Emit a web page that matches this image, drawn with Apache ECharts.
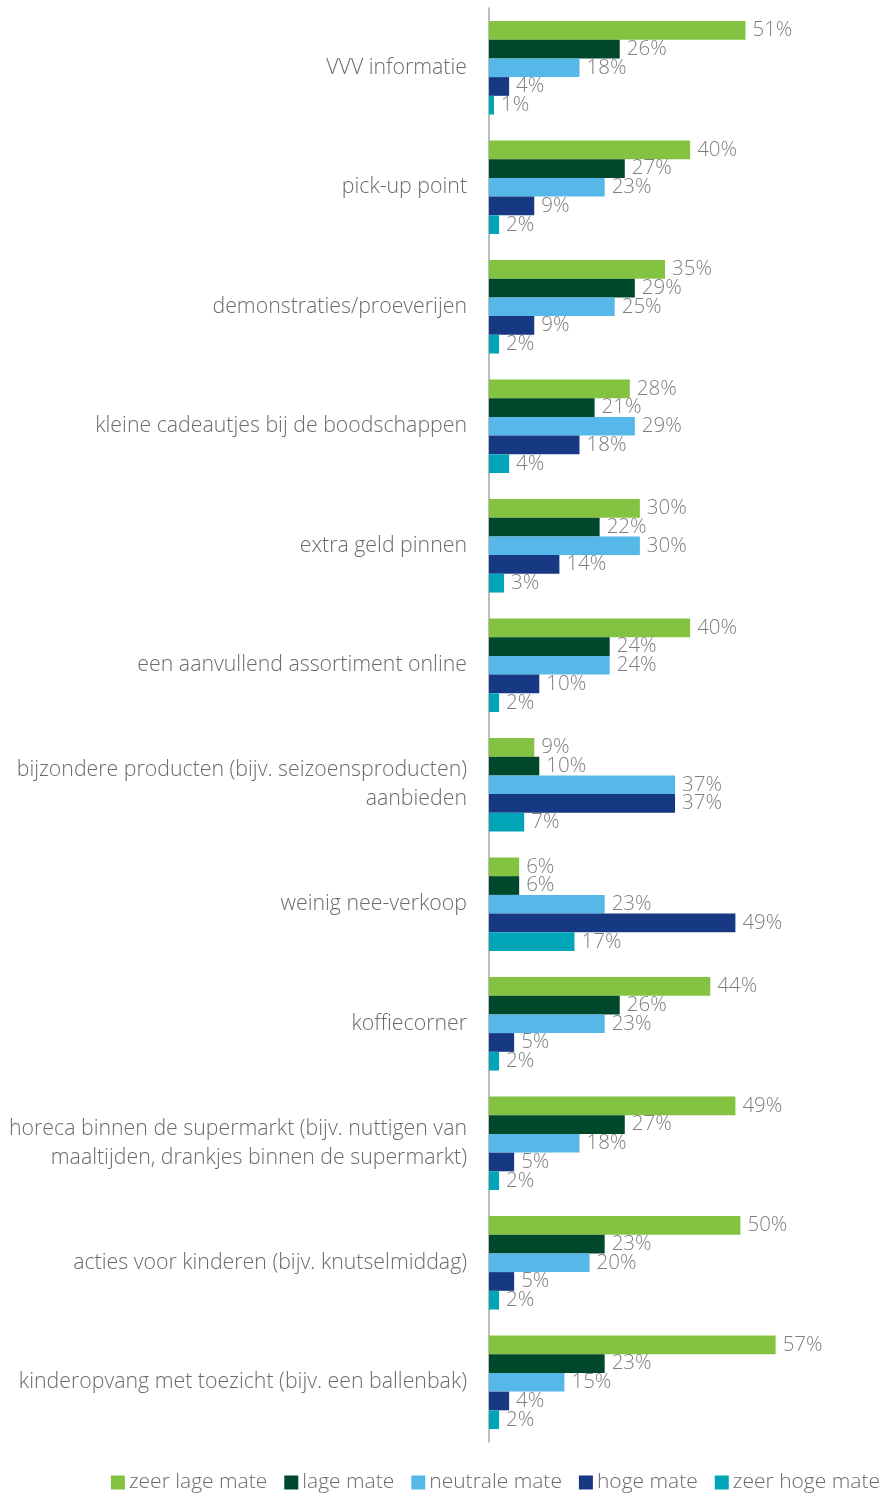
<!DOCTYPE html>
<html>
<head>
<meta charset="utf-8">
<script src="https://cdn.jsdelivr.net/npm/echarts@6/dist/echarts.min.js"></script>
<style>
html,body{margin:0;padding:0;background:#fff;}
#chart{width:889px;height:1493px;}
</style>
</head>
<body>
<div id="chart"></div>
<script>
const categories = [
  "VVV informatie",
  "pick-up point",
  "demonstraties/proeverijen",
  "kleine cadeautjes bij de boodschappen",
  "extra geld pinnen",
  "een aanvullend assortiment online",
  "bijzondere producten (bijv. seizoensproducten)\naanbieden",
  "weinig nee-verkoop",
  "koffiecorner",
  "horeca binnen de supermarkt (bijv. nuttigen van\nmaaltijden, drankjes binnen de supermarkt)",
  "acties voor kinderen (bijv. knutselmiddag)",
  "kinderopvang met toezicht (bijv. een ballenbak)"
];
const seriesNames = ["zeer lage mate", "lage mate", "neutrale mate", "hoge mate", "zeer hoge mate"];
const zeerLage  = [51, 40, 35, 28, 30, 40, 9, 6, 44, 49, 50, 57];
const lage      = [26, 27, 29, 21, 22, 24, 10, 6, 26, 27, 23, 23];
const neutrale  = [18, 23, 25, 29, 30, 24, 37, 23, 23, 18, 20, 15];
const hoge      = [4, 9, 9, 18, 14, 10, 37, 49, 5, 5, 5, 4];
const zeerHoge  = [1, 2, 2, 4, 3, 2, 7, 17, 2, 2, 2, 2];
const colors = ["#84c341", "#00482b", "#55b8e8", "#173882", "#00a6b8"];

const allValues = [zeerLage, lage, neutrale, hoge, zeerHoge];
const FONT = "'Open Sans', 'Noto Sans', sans-serif";

const chart = echarts.init(document.getElementById('chart'), null, {renderer: 'canvas'});
chart.setOption({
  animation: false,
  color: colors,
  textStyle: {fontFamily: FONT},
  grid: {left: 489, top: 8, width: 352, height: 1434, containLabel: false},
  xAxis: {
    type: 'value', min: 0, max: 70,
    show: false
  },
  yAxis: {
    type: 'category', data: categories, inverse: true,
    axisLine: {show: true, lineStyle: {color: '#a6a6a6', width: 1.5}},
    axisTick: {show: false},
    axisLabel: {
      margin: 22, fontSize: 21.3, color: '#6b6b6b', fontWeight: 300,
      fontFamily: FONT, lineHeight: 29, align: 'right'
    }
  },
  legend: {
    top: 1467, right: 4,
    itemWidth: 14, itemHeight: 14, itemGap: 17,
    icon: 'rect',
    textStyle: {fontSize: 21, color: '#6b6b6b', fontWeight: 300, fontFamily: FONT, padding: [0,0,0,-1]},
    data: seriesNames
  },
  series: seriesNames.map((n, i) => ({
    name: n, type: 'bar', data: allValues[i],
    barGap: '0%', barCategoryGap: '21.7%',
    label: {
      show: true, position: 'right', distance: 7,
      formatter: '{c}%', fontSize: 20.5, color: '#7f7f7f', fontWeight: 300, fontFamily: FONT
    }
  }))
});
</script>
</body>
</html>
